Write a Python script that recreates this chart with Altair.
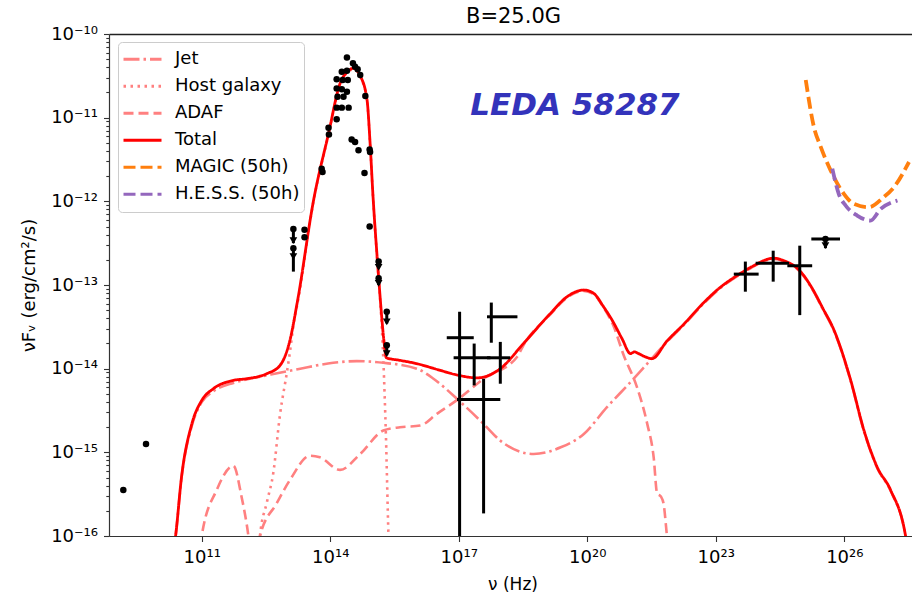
import json
import pandas as pd
import altair as alt

# ---------------- model curves: log10(nu / Hz), log10(nuFnu / erg cm^-2 s^-1) ----------------
total_lognu = [10.30, 10.39, 10.53, 10.77, 11.00, 11.27, 11.74, 12.05, 12.52, 12.83, 13.06, 13.24,
               13.61, 13.96, 14.23, 14.40, 14.54, 14.70, 14.86, 14.93, 15.00, 15.10, 15.17, 15.25,
               15.31, 15.62, 16.02, 16.50, 17.00, 17.43, 17.97, 18.51, 19.14, 19.53, 19.92, 20.15,
               20.38, 20.58, 20.81, 21.01, 21.10, 21.20, 21.36, 21.51, 21.86, 22.25, 22.72, 23.03,
               23.58, 23.81, 24.36, 24.59, 24.98, 25.25, 25.50, 25.76, 26.15, 26.46, 26.77, 27.08,
               27.43, 27.52]
total_logF = [-16.3, -16.0, -15.29, -14.66, -14.38, -14.24, -14.14, -14.12, -14.06, -13.96, -13.66, -13.18,
              -11.99, -11.19, -10.59, -10.45, -10.41, -10.50, -10.79, -11.30, -11.95, -12.70, -13.18, -13.65,
              -13.87, -13.90, -13.94, -14.01, -14.08, -14.11, -14.00, -13.70, -13.34, -13.14, -13.06, -13.10,
              -13.26, -13.42, -13.64, -13.82, -13.80, -13.82, -13.86, -13.88, -13.67, -13.47, -13.21, -13.06,
              -12.86, -12.79, -12.68, -12.71, -12.84, -13.04, -13.28, -13.54, -14.14, -14.74, -15.18, -15.45,
              -16.0, -16.3]

jet_lognu = [10.30, 10.39, 10.53, 10.77, 11.00, 11.27, 11.74, 12.05, 12.52, 13.30, 14.07, 14.62,
             15.24, 16.02, 16.41, 17.00, 17.58, 17.97, 18.75, 19.38, 19.92, 20.46, 21.01, 21.47,
             21.86, 22.25, 22.72, 23.03, 23.58, 23.81, 24.36, 24.59, 24.98, 25.25, 25.50, 25.76,
             26.15, 26.46, 26.77, 27.08, 27.43, 27.52]
jet_logF = [-16.3, -16.0, -15.30, -14.68, -14.40, -14.27, -14.17, -14.13, -14.08, -14.00, -13.93, -13.91,
            -13.93, -14.00, -14.12, -14.38, -14.66, -14.86, -15.02, -14.94, -14.78, -14.46, -14.16, -13.90,
            -13.68, -13.48, -13.22, -13.07, -12.87, -12.80, -12.69, -12.72, -12.85, -13.05, -13.29, -13.55,
            -14.15, -14.75, -15.19, -15.46, -16.0, -16.3]

host_lognu = [12.28, 12.36, 12.52, 12.67, 12.83, 12.99, 13.06, 13.15, 13.24, 13.61, 13.96, 14.23,
              14.40, 14.54, 14.70, 14.86, 14.93, 15.00, 15.10, 15.17, 15.24, 15.30, 15.36, 15.40]
host_logF = [-16.5, -16.0, -15.60, -15.25, -14.54, -14.04, -13.80, -13.45, -13.21, -12.00, -11.20, -10.60,
             -10.46, -10.42, -10.51, -10.80, -11.31, -11.96, -12.72, -13.22, -13.90, -14.80, -16.0, -16.5]

adaf_lognu = [10.95, 11.00, 11.35, 11.74, 11.93, 12.09, 12.22, 12.36, 12.75, 13.06, 13.53, 13.76,
              14.23, 14.70, 15.24, 15.63, 16.10, 16.49, 17.00, 17.58, 18.36, 18.51, 19.14, 19.53,
              19.92, 20.15, 20.38, 20.62, 20.85, 21.16, 21.40, 21.55, 21.63, 21.72, 21.78, 21.86, 21.92]
adaf_logF = [-16.3, -16.0, -15.45, -15.16, -15.53, -16.0, -16.6, -16.0, -15.61, -15.33, -15.04, -15.06,
             -15.21, -15.02, -14.74, -14.70, -14.68, -14.54, -14.36, -14.12, -13.86, -13.72, -13.35, -13.15,
             -13.07, -13.11, -13.27, -13.50, -13.84, -14.22, -14.66, -15.06, -15.49, -15.53, -15.61, -16.0, -16.3]

magic_lognu = [25.10, 25.29, 25.45, 25.68, 25.99, 26.22, 26.57, 26.92, 27.16, 27.51]
magic_logF = [-10.55, -11.11, -11.35, -11.63, -11.91, -12.03, -12.07, -11.95, -11.83, -11.53]

hess_lognu = [25.72, 25.87, 26.03, 26.30, 26.61, 26.85, 27.24]
hess_logF = [-11.61, -11.91, -12.05, -12.17, -12.23, -12.09, -11.99]

# ---------------- observed data ----------------
dots_lognu = [9.17, 9.70,
              14.39, 14.53, 14.58, 14.64, 14.27, 14.39, 14.70, 14.15, 14.29, 14.41, 14.15, 14.27,
              14.39, 14.17, 14.31, 14.82, 14.15, 14.27, 14.43, 14.15, 13.96, 13.97, 14.50, 14.58,
              14.66, 14.92, 14.93, 14.80, 13.80, 13.82, 14.92, 13.40, 13.40]
dots_logF = [-15.45, -14.90,
             -10.28, -10.35, -10.39, -10.42, -10.45, -10.44, -10.49, -10.54, -10.55, -10.55, -10.65, -10.66,
             -10.69, -10.75, -10.75, -10.74, -10.88, -10.88, -10.88, -11.02, -11.12, -11.20, -11.26, -11.29,
             -11.39, -11.38, -11.41, -11.66, -11.61, -11.65, -12.30, -12.34, -12.43]

# upper limits: value, end of the bar, arrow head position
ul_lognu = [13.14, 13.14, 15.13, 15.13, 15.32, 15.32, 25.56]
ul_logF = [-12.33, -12.56, -12.72, -12.92, -13.32, -13.72, -12.45]
ul_end_logF = [-12.50, -12.84, -12.80, -13.00, -13.46, -13.84, -12.56]
ul_tri_logF = [-12.47, -12.66, -12.79, -12.98, -13.44, -13.82, -12.53]
ul_hbar_lo = [None, None, None, None, None, None, 25.23]
ul_hbar_hi = [None, None, None, None, None, None, 25.90]

# X-ray and gamma-ray points with error bars
err_lognu = [17.02, 17.36, 17.97, 17.76, 17.58, 23.69, 24.34, 24.96]
err_logF = [-13.63, -13.87, -13.87, -13.38, -14.37, -12.87, -12.74, -12.77]
err_nu_lo = [16.72, 16.88, 17.66, 17.66, 16.96, 23.42, 23.93, 24.67]
err_nu_hi = [17.35, 17.74, 18.20, 18.37, 17.97, 24.00, 24.71, 25.25]
err_F_lo = [-17.0, -14.20, -14.18, -13.69, -15.73, -13.08, -12.96, -13.36]
err_F_hi = [-13.32, -13.70, -13.68, -13.21, -14.12, -12.72, -12.59, -12.53]

# labels
series_names = ["Jet", "Host galaxy", "ADAF", "Total", "MAGIC (50h)", "H.E.S.S. (50h)"]
series_colors = ["#ff8080", "#ff8080", "#ff8080", "#ff0000", "#ff7f0e", "#9467bd"]
series_dash = [[16, 4, 2.5, 4], [2.5, 4.5], [10, 5], [1, 0], [12, 5], [12, 5]]
series_width = [2.6, 2.6, 2.6, 2.8, 3.8, 3.8]

x_tick_exps = [11, 14, 17, 20, 23, 26]
x_tick_labels = ["10¹¹", "10¹⁴", "10¹⁷", "10²⁰", "10²³", "10²⁶"]
y_tick_exps = [-16, -15, -14, -13, -12, -11, -10]
y_tick_labels = ["10⁻¹⁶", "10⁻¹⁵", "10⁻¹⁴", "10⁻¹³", "10⁻¹²", "10⁻¹¹", "10⁻¹⁰"]

title_text = ["B=25.0G"]
x_title = "ν (Hz)"
y_title = "νFᵥ (erg/cm²/s)"
source_name = ["LEDA 58287"]
source_lognu = [17.27]
source_logF = [-10.97]

# ---------------- tables ----------------
def p10(v):
    return None if v is None else 10.0 ** v

curves = {
    "Jet": (jet_lognu, jet_logF),
    "Host galaxy": (host_lognu, host_logF),
    "ADAF": (adaf_lognu, adaf_logF),
    "Total": (total_lognu, total_logF),
    "MAGIC (50h)": (magic_lognu, magic_logF),
    "H.E.S.S. (50h)": (hess_lognu, hess_logF),
}
rows = []
for name, (xs, ys) in curves.items():
    for i, (a, b) in enumerate(zip(xs, ys)):
        rows.append({"series": name, "nu": p10(a), "flux": p10(b), "idx": i})
lines_df = pd.DataFrame(rows)

dots_df = pd.DataFrame({"nu": [p10(v) for v in dots_lognu], "flux": [p10(v) for v in dots_logF]})
ul_df = pd.DataFrame({
    "nu": [p10(v) for v in ul_lognu], "flux": [p10(v) for v in ul_logF],
    "flux_end": [p10(v) for v in ul_end_logF], "flux_tri": [p10(v) for v in ul_tri_logF],
    "nu_lo": [p10(v) for v in ul_hbar_lo], "nu_hi": [p10(v) for v in ul_hbar_hi],
})
ul_bar_df = ul_df.dropna()
err_df = pd.DataFrame({
    "nu": [p10(v) for v in err_lognu], "flux": [p10(v) for v in err_logF],
    "nu_lo": [p10(v) for v in err_nu_lo], "nu_hi": [p10(v) for v in err_nu_hi],
    "f_lo": [p10(v) for v in err_F_lo], "f_hi": [p10(v) for v in err_F_hi],
})
src_df = pd.DataFrame({"label": source_name, "nu": [p10(v) for v in source_lognu],
                       "flux": [p10(v) for v in source_logF]})
title_df = pd.DataFrame({"label": title_text})

# ---------------- scales & axes ----------------
W, H = 803, 502
FONT = "DejaVu Sans"
xscale = alt.Scale(type="log", domain=[10 ** 8.836, 10 ** 27.58], nice=False)
yscale = alt.Scale(type="log", domain=[10.0 ** y_tick_exps[0], 10.0 ** y_tick_exps[-1]], nice=False)

y_major = [10.0 ** e for e in y_tick_exps]
y_minor = [k * 10.0 ** e for e in y_tick_exps[:-1] for k in range(2, 10)]
lg = "(log(datum.value)/LN10)"
is_major = f"abs({lg} - round({lg})) < 0.001"
y_label_expr = (f"{is_major} ? {json.dumps(y_tick_labels, ensure_ascii=False)}"
                f"[round({lg}) - ({y_tick_exps[0]})] : ''")
x_label_expr = (f"{json.dumps(x_tick_labels, ensure_ascii=False)}"
                f"[round(({lg} - {x_tick_exps[0]})/3)]")

yaxis = alt.Axis(values=y_major + y_minor, labelExpr=y_label_expr,
                 tickSize={"condition": {"test": is_major, "value": 5.5}, "value": 3.2},
                 tickColor="#333", tickWidth=1.1, domainColor="#333", domainWidth=1.2,
                 labelFont=FONT, labelFontSize=18, labelColor="#000", labelPadding=6,
                 labelOverlap=False, labelBound=False, labelFlush=False, grid=False,
                 title=y_title, titleFont=FONT, titleFontSize=18, titleFontWeight="normal",
                 titleColor="#000", titleAngle=270, titleX=-75, titleY=H / 2,
                 titleBaseline="alphabetic", titleAlign="center")
xaxis_bottom = alt.Axis(values=[10.0 ** e for e in x_tick_exps], labelExpr=x_label_expr,
                        tickSize=5.5, tickColor="#333", tickWidth=1.1, domainColor="#333",
                        domainWidth=1.2, labelFont=FONT, labelFontSize=18, labelColor="#000",
                        labelPadding=7, labelOverlap=False, labelFlush=False, grid=False,
                        title=x_title, titleFont=FONT, titleFontSize=17, titleFontWeight="normal",
                        titleColor="#000", titleY=53, titleX=W / 2 + 2, titleBaseline="alphabetic",
                        titleAlign="center")
xaxis_top = alt.Axis(orient="top", ticks=False, labels=False, grid=False, title=None,
                     domainColor="#222", domainWidth=1.3)

legend = alt.Legend(title=None, orient="none", legendX=9, legendY=8, symbolType="stroke",
                    symbolSize=1444, symbolStrokeWidth=3, labelFont=FONT, labelFontSize=18,
                    labelColor="#000", clipHeight=26.5, rowPadding=0, padding=4, labelOffset=12,
                    strokeColor="#cccccc", cornerRadius=4, fillColor="rgba(255,255,255,0.8)")

color_enc = alt.Color("series:N", scale=alt.Scale(domain=series_names, range=series_colors), legend=legend)
dash_enc = alt.StrokeDash("series:N", scale=alt.Scale(domain=series_names, range=series_dash), legend=legend)

layers = []
for name, sw in zip(series_names, series_width):
    if name == "Total":
        xa = xaxis_bottom
    elif name == "MAGIC (50h)":
        xa = xaxis_top
    else:
        xa = None
    layers.append(
        alt.Chart(lines_df).transform_filter(alt.datum.series == name)
        .mark_line(clip=True, interpolate="monotone", strokeWidth=sw)
        .encode(x=alt.X("nu:Q", scale=xscale, axis=xa),
                y=alt.Y("flux:Q", scale=yscale, axis=yaxis),
                color=color_enc, strokeDash=dash_enc,
                order=alt.Order("idx:Q"))
    )

X = lambda f: alt.X(f, scale=xscale, axis=None)
Y = lambda f: alt.Y(f, scale=yscale, axis=yaxis)

layers += [
    alt.Chart(err_df).mark_rule(clip=True, color="black", strokeWidth=3)
    .encode(x=X("nu_lo:Q"), x2="nu_hi:Q", y=Y("flux:Q")),
    alt.Chart(err_df).mark_rule(clip=True, color="black", strokeWidth=3)
    .encode(x=X("nu:Q"), y=Y("f_lo:Q"), y2="f_hi:Q"),
    alt.Chart(ul_bar_df).mark_rule(clip=True, color="black", strokeWidth=3)
    .encode(x=X("nu_lo:Q"), x2="nu_hi:Q", y=Y("flux:Q")),
    alt.Chart(ul_df).mark_rule(clip=True, color="black", strokeWidth=3)
    .encode(x=X("nu:Q"), y=Y("flux_end:Q"), y2="flux:Q"),
    alt.Chart(ul_df).mark_point(clip=True, shape="triangle-down", filled=True, size=60,
                                color="black", opacity=1)
    .encode(x=X("nu:Q"), y=Y("flux_tri:Q")),
    alt.Chart(ul_df).mark_circle(clip=True, size=42, color="black", opacity=1)
    .encode(x=X("nu:Q"), y=Y("flux:Q")),
    alt.Chart(dots_df).mark_circle(clip=True, size=42, color="black", opacity=1)
    .encode(x=X("nu:Q"), y=Y("flux:Q")),
    alt.Chart(src_df).mark_text(font=FONT, fontSize=31, fontStyle="italic",
                                fontWeight="bold", color="#3333bb", align="left",
                                baseline="alphabetic")
    .encode(x=X("nu:Q"), y=Y("flux:Q"), text="label:N"),
    # chart title, placed just above the plot frame
    alt.Chart(title_df).mark_text(font=FONT, fontSize=21, color="#000", align="center",
                                  baseline="alphabetic")
    .encode(x=alt.value(W / 2 + 3), y=alt.value(-11), text="label:N"),
]

chart = (
    alt.layer(*layers)
    .resolve_axis(x="independent")
    .properties(
        width=W, height=H,
        padding={"left": 109, "top": 34, "right": 0, "bottom": 58},
        autosize=alt.AutoSizeParams(type="none"),
    )
    .configure_view(stroke=None)
    .configure(background="white")
)

chart.save("out.html", embed_options={"renderer": "svg", "actions": False})
